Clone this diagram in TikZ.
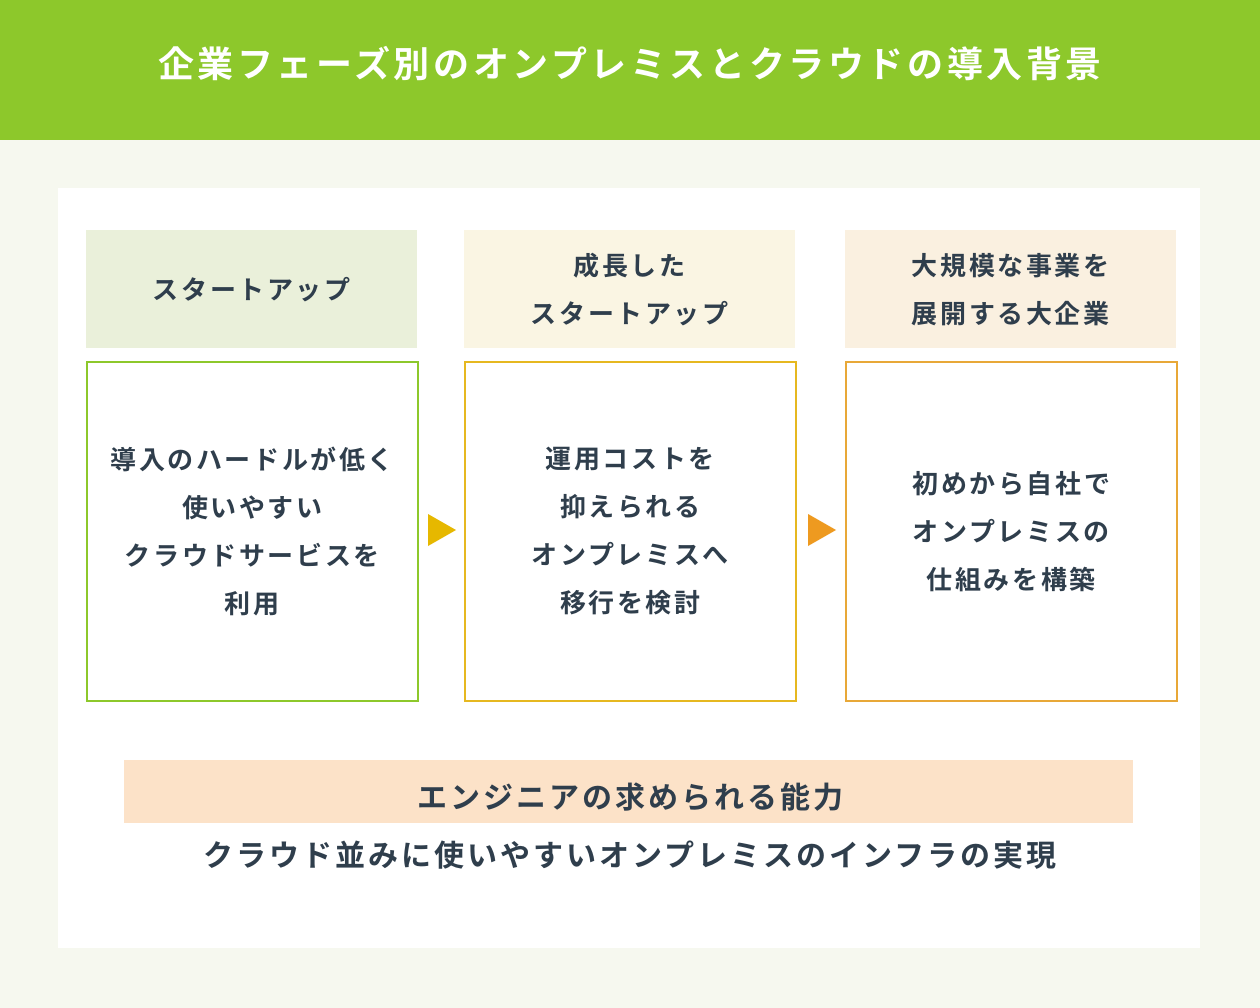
\documentclass[tikz,border=0pt]{standalone}
\usepackage{fontspec}
\newfontfamily\cjk[LetterSpace=10]{Noto Sans CJK JP Bold}
\definecolor{hdr}{HTML}{8DC82B}
\definecolor{bg}{HTML}{F6F8EF}
\definecolor{txt}{HTML}{2F3E4C}
\definecolor{f1}{HTML}{EAF0DA}
\definecolor{f2}{HTML}{FAF5E3}
\definecolor{f3}{HTML}{FAF0E0}
\definecolor{b1}{HTML}{8DC82B}
\definecolor{b2}{HTML}{E6B820}
\definecolor{b3}{HTML}{E8A838}
\definecolor{a1}{HTML}{E6B800}
\definecolor{a2}{HTML}{EE9A20}
\definecolor{band}{HTML}{FCE2C8}
\begin{document}
\begin{tikzpicture}[x=1pt,y=-1pt,
  head/.style={minimum width=331pt,minimum height=118pt,anchor=north west,inner sep=0pt,align=center,text=txt,font=\cjk\fontsize{26}{48}\selectfont},
  body/.style={minimum width=331pt,minimum height=339pt,anchor=north west,inner sep=0pt,align=center,text=txt,line width=1.5pt,fill=white,font=\cjk\fontsize{26}{48}\selectfont}]
\fill[bg] (0,0) rectangle (1260,1008);
\fill[hdr] (0,0) rectangle (1260,140);
\node[text=white,font=\cjk\fontsize{36}{40}\selectfont] (title) at (630,64) {企業フェーズ別のオンプレミスとクラウドの導入背景};
\fill[white] (58,188) rectangle (1200,948);
\node[head,fill=f1] (h1) at (86,230) {スタートアップ};
\node[head,fill=f2] (h2) at (464,230) {成長した\\スタートアップ};
\node[head,fill=f3] (h3) at (845,230) {大規模な事業を\\展開する大企業};
\node[body,draw=b1] (c1) at (86,361) {導入のハードルが低く\\使いやすい\\クラウドサービスを\\利用};
\node[body,draw=b2] (c2) at (464,361) {運用コストを\\抑えられる\\オンプレミスへ\\移行を検討};
\node[body,draw=b3] (c3) at (845,361) {初めから自社で\\オンプレミスの\\仕組みを構築};
\fill[a1] (428,514) -- (456,530) -- (428,546) -- cycle;
\fill[a2] (808,514) -- (836,530) -- (808,546) -- cycle;
\fill[band] (124,760) rectangle (1133,823);
\node[text=txt,font=\cjk\fontsize{30}{36}\selectfont] (ab) at (630,797) {エンジニアの求められる能力};
\node[text=txt,font=\cjk\fontsize{30}{36}\selectfont] (res) at (630,855) {クラウド並みに使いやすいオンプレミスのインフラの実現};
\end{tikzpicture}
\end{document}
